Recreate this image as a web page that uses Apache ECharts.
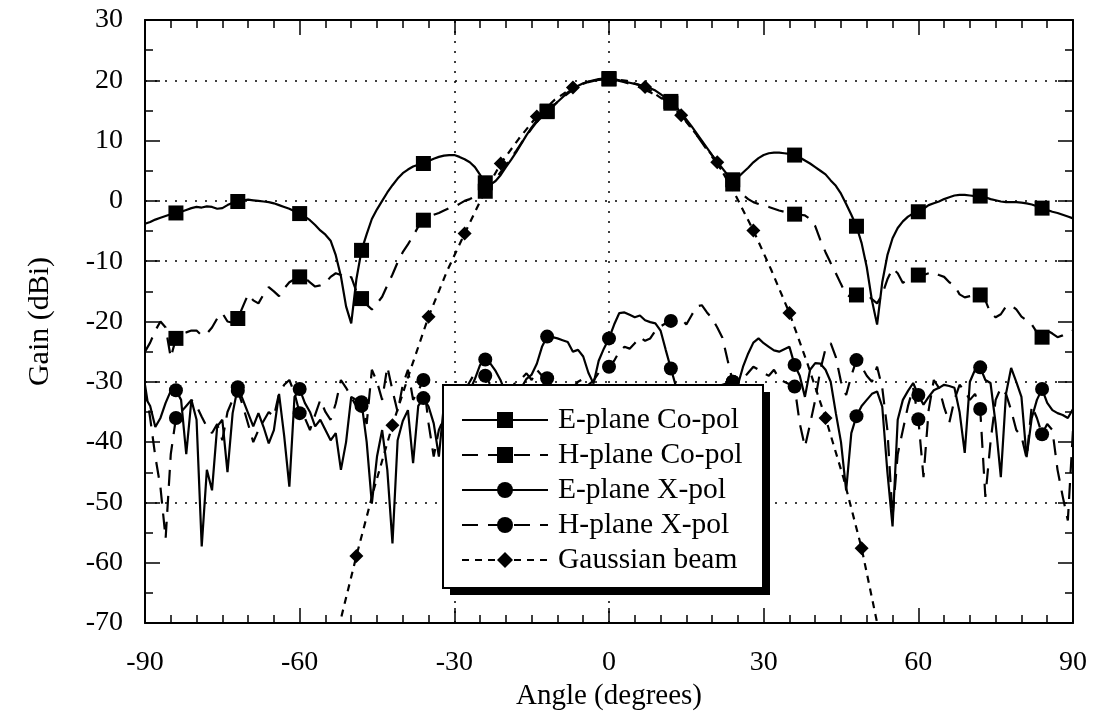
<!DOCTYPE html>
<html>
<head>
<meta charset="utf-8">
<script src="https://cdn.jsdelivr.net/npm/echarts@6/dist/echarts.min.js"></script>
<style>
  html, body { margin: 0; padding: 0; background: #fff; }
  #chart { width: 1098px; height: 717px; }
</style>
</head>
<body>
<div id="chart"></div>
<script>
// Measured antenna patterns, sampled every degree from -90 to 90.
const angles = [
  -90,-89,-88,-87,-86,-85,-84,-83,-82,-81,
  -80,-79,-78,-77,-76,-75,-74,-73,-72,-71,
  -70,-69,-68,-67,-66,-65,-64,-63,-62,-61,
  -60,-59,-58,-57,-56,-55,-54,-53,-52,-51,
  -50,-49,-48,-47,-46,-45,-44,-43,-42,-41,
  -40,-39,-38,-37,-36,-35,-34,-33,-32,-31,
  -30,-29,-28,-27,-26,-25,-24,-23,-22,-21,
  -20,-19,-18,-17,-16,-15,-14,-13,-12,-11,
  -10,-9,-8,-7,-6,-5,-4,-3,-2,-1,
  0,1,2,3,4,5,6,7,8,9,
  10,11,12,13,14,15,16,17,18,19,
  20,21,22,23,24,25,26,27,28,29,
  30,31,32,33,34,35,36,37,38,39,
  40,41,42,43,44,45,46,47,48,49,
  50,51,52,53,54,55,56,57,58,59,
  60,61,62,63,64,65,66,67,68,69,
  70,71,72,73,74,75,76,77,78,79,
  80,81,82,83,84,85,86,87,88,89,
  90
];

const eCoPol = [
  -3.8,-3.5,-3.1,-2.8,-2.5,-2.2,-2.0,-1.8,-1.5,-1.2,
  -1.0,-1.1,-0.9,-1.0,-1.3,-1.2,-0.7,-0.3,-0.1,0.1,
  0.2,0.1,0.0,-0.1,-0.2,-0.4,-0.7,-1.0,-1.3,-1.7,
  -2.1,-2.6,-3.2,-4.0,-4.9,-5.6,-6.6,-9.0,-12.5,-17.5,
  -20.3,-13.0,-8.2,-5.5,-3.0,-1.4,0.0,1.4,2.6,3.7,
  4.6,5.2,5.7,6.0,6.2,6.6,7.0,7.3,7.5,7.6,
  7.6,7.3,6.9,6.4,5.6,4.3,3.0,2.7,3.3,4.3,
  5.6,6.8,8.1,9.5,10.9,12.2,13.3,14.2,14.9,15.6,
  16.4,17.2,18.0,18.6,19.1,19.5,19.8,20.0,20.2,20.3,
  20.3,20.2,20.0,19.8,19.6,19.4,19.2,19.0,18.7,18.3,
  17.7,17.1,16.5,15.6,14.6,13.5,12.4,11.2,10.0,8.8,
  7.6,6.5,5.4,4.3,3.5,3.9,4.7,5.5,6.4,7.1,
  7.6,7.9,8.0,8.0,7.9,7.8,7.6,7.2,6.7,6.2,
  5.6,5.0,4.4,3.4,2.5,1.2,-0.5,-2.3,-4.2,-7.0,
  -11.0,-16.5,-20.5,-13.5,-9.0,-6.2,-4.5,-3.4,-2.6,-2.1,
  -1.8,-1.3,-0.7,-0.4,-0.1,0.3,0.6,0.9,1.0,1.0,
  0.9,0.8,0.8,0.6,0.3,0.1,-0.1,-0.2,-0.2,-0.2,
  -0.3,-0.4,-0.6,-0.9,-1.2,-1.5,-1.8,-2.0,-2.3,-2.6,
  -2.9
];

const hCoPol = [
  -25.0,-23.5,-21.5,-20.0,-21.0,-26.0,-22.8,-22.0,-21.8,-21.5,
  -21.5,-22.3,-22.0,-21.0,-19.5,-18.6,-20.0,-20.2,-19.5,-17.5,
  -15.5,-16.5,-17.0,-15.5,-14.3,-15.0,-15.8,-14.5,-13.5,-13.0,
  -12.6,-12.8,-13.5,-14.2,-14.0,-13.6,-12.6,-12.0,-12.3,-13.0,
  -12.6,-15.0,-16.2,-17.2,-18.0,-17.0,-15.9,-14.0,-12.2,-10.2,
  -8.5,-7.2,-5.8,-4.3,-3.2,-2.6,-2.3,-2.0,-1.6,-1.2,
  -1.0,-0.5,0.0,0.3,0.7,1.1,1.6,2.6,3.7,4.8,
  5.9,7.1,8.3,9.6,10.8,12.0,13.1,14.0,14.8,15.6,
  16.4,17.1,17.8,18.4,18.9,19.3,19.7,19.9,20.1,20.2,
  20.2,20.1,19.9,19.7,19.4,19.1,18.8,18.4,18.0,17.6,
  17.2,16.7,16.2,15.3,14.3,13.2,12.1,10.9,9.7,8.5,
  7.3,6.1,4.9,3.8,2.8,1.9,1.0,0.3,-0.2,-0.5,
  -0.8,-1.0,-1.3,-1.6,-1.8,-2.0,-2.2,-2.3,-2.4,-3.0,
  -4.2,-6.5,-8.5,-10.3,-12.0,-13.8,-15.5,-16.0,-15.6,-15.0,
  -15.5,-16.3,-17.0,-15.5,-13.0,-11.2,-12.0,-13.6,-13.0,-12.6,
  -12.3,-12.3,-12.0,-11.8,-12.3,-12.6,-13.5,-14.0,-15.5,-16.0,
  -15.8,-15.6,-15.6,-16.5,-18.6,-19.3,-18.8,-17.5,-17.3,-18.0,
  -19.2,-19.8,-20.5,-21.8,-22.6,-21.5,-22.0,-22.6,-22.3,-21.8,
  -21.5
];

const eXPol = [
  -32.5,-34.0,-37.5,-36.0,-33.5,-31.5,-31.4,-33.0,-42.0,-33.0,
  -36.3,-57.3,-44.6,-48.0,-37.4,-36.3,-45.0,-35.2,-30.9,-33.0,
  -35.2,-37.4,-35.2,-37.5,-40.2,-38.0,-32.0,-39.0,-47.4,-32.5,
  -31.2,-33.5,-35.0,-37.4,-36.3,-38.0,-39.7,-38.5,-44.6,-40.0,
  -32.5,-33.0,-33.4,-40.0,-50.2,-42.4,-38.0,-44.6,-56.8,-39.7,
  -36.5,-34.7,-43.5,-34.0,-32.7,-34.1,-36.9,-42.4,-33.6,-36.0,
  -38.0,-35.0,-33.0,-31.5,-29.5,-27.2,-26.3,-27.0,-28.2,-29.8,
  -32.0,-33.0,-32.0,-31.0,-29.5,-28.8,-27.0,-24.2,-22.5,-22.6,
  -22.8,-23.1,-23.4,-25.0,-24.7,-25.8,-28.5,-30.3,-26.5,-24.5,
  -22.8,-20.5,-18.6,-18.5,-18.9,-19.3,-19.0,-19.8,-20.1,-20.3,
  -21.5,-24.7,-27.8,-30.8,-33.0,-35.0,-34.0,-33.0,-35.0,-34.0,
  -32.0,-31.0,-30.5,-30.2,-30.0,-30.5,-27.5,-25.3,-23.5,-22.8,
  -23.6,-24.2,-24.8,-25.0,-24.6,-24.2,-27.2,-29.0,-32.5,-28.0,
  -26.9,-27.0,-28.0,-30.0,-35.2,-40.0,-48.0,-38.5,-35.7,-34.0,
  -33.0,-32.0,-31.6,-34.1,-45.0,-54.0,-36.3,-33.0,-31.5,-30.2,
  -32.2,-33.8,-32.5,-31.4,-31.0,-30.5,-30.7,-31.0,-35.0,-41.8,
  -30.0,-28.0,-27.6,-29.7,-30.2,-37.0,-45.8,-32.0,-27.7,-30.0,
  -32.5,-42.5,-36.0,-33.0,-31.2,-33.5,-34.7,-35.2,-35.5,-36.0,
  -34.5
];

const hXPol = [
  -30.5,-36.0,-42.4,-47.5,-56.0,-42.0,-36.0,-35.0,-34.0,-33.0,
  -34.0,-35.8,-37.5,-38.5,-37.0,-39.7,-35.0,-33.0,-31.5,-34.0,
  -37.0,-40.0,-38.0,-36.5,-35.0,-35.8,-31.9,-30.5,-29.7,-31.9,
  -35.2,-36.0,-38.0,-35.5,-33.0,-35.0,-36.3,-33.6,-29.7,-31.0,
  -32.5,-34.1,-34.0,-37.0,-28.0,-30.0,-33.0,-27.5,-31.4,-35.0,
  -30.5,-28.0,-33.0,-31.5,-29.7,-36.9,-42.4,-38.0,-36.0,-38.0,
  -35.0,-33.0,-31.5,-30.0,-28.5,-29.2,-29.0,-30.5,-32.0,-34.0,
  -33.0,-31.0,-30.0,-29.5,-28.6,-29.7,-28.0,-29.0,-29.4,-29.8,
  -30.5,-32.0,-33.0,-31.0,-30.0,-29.5,-30.5,-29.8,-28.5,-27.8,
  -27.5,-26.5,-25.0,-24.2,-24.5,-23.6,-22.6,-23.2,-22.8,-21.5,
  -20.8,-20.3,-19.9,-19.7,-19.5,-20.5,-19.0,-17.5,-17.3,-18.5,
  -19.5,-21.0,-22.7,-26.4,-30.0,-29.2,-29.5,-28.5,-27.5,-28.0,
  -28.6,-29.0,-28.0,-29.5,-30.0,-30.4,-30.8,-36.9,-40.8,-37.0,
  -33.0,-28.0,-24.5,-23.6,-25.9,-30.0,-32.2,-29.0,-26.4,-27.5,
  -29.0,-30.0,-27.5,-31.0,-38.0,-52.4,-42.0,-38.0,-34.0,-31.0,
  -36.2,-45.8,-34.7,-29.7,-31.0,-34.2,-36.8,-33.0,-30.5,-31.5,
  -33.0,-32.0,-34.5,-49.1,-40.0,-33.0,-31.0,-32.0,-34.7,-38.0,
  -39.0,-42.7,-34.0,-36.0,-38.7,-37.0,-38.0,-44.6,-49.0,-53.0,
  -38.0
];

// Gaussian beam model, sampled every 3.5 degrees.
const gaussAngles = [
  -52.5,-49,-45.5,-42,-38.5,-35,-31.5,-28,-24.5,-21,-17.5,-14,-10.5,-7,-3.5,
  0,3.5,7,10.5,14,17.5,21,24.5,28,31.5,35,38.5,42,45.5,49,52.5
];
const gaussGain = [
  -71.0,-58.9,-47.5,-37.2,-28.0,-19.2,-11.8,-5.4,0.8,6.2,10.3,14.0,16.8,18.8,19.9,
  20.3,19.9,18.9,16.8,14.2,10.4,6.4,1.0,-4.9,-11.5,-18.6,-27.0,-36.0,-46.0,-57.6,-72.0
];

// Dotted reference lines.
const gridAngles = [-30, 0];
const gridGains = [20, 0, -10, -30, -50];

const seriesNames = ['E-plane Co-pol', 'H-plane Co-pol', 'E-plane X-pol', 'H-plane X-pol', 'Gaussian beam'];

const FONT = '"Liberation Serif", "Times New Roman", serif';

// Legend frame (box plus a solid drop shadow), in pixels.
const LEGEND_BOX = { x: 443, y: 385, width: 320, height: 203 };
const LEGEND_SHADOW = 7;

// Keep a marker only every `step` degrees; the rest of the samples draw just the line.
function withMarkers(xs, ys, step) {
  return xs.map((x, i) =>
    Math.abs(x % step) < 1e-9 ? [x, ys[i]] : { value: [x, ys[i]], symbol: 'none' });
}

function patternSeries(name, xs, ys, step, symbol, size, dash) {
  return {
    name: name,
    type: 'line',
    data: withMarkers(xs, ys, step),
    symbol: symbol,
    symbolSize: size,
    showSymbol: true,
    animation: false,
    silent: true,
    z: 3,
    lineStyle: { color: '#000', width: 2.2, type: dash },
    itemStyle: { color: '#000' },
    emphasis: { disabled: true }
  };
}

function axisCommon() {
  return {
    axisLine: { show: true, onZero: false, lineStyle: { color: '#000', width: 2 } },
    axisTick: { show: true, inside: true, length: 15, lineStyle: { color: '#000', width: 1.5 } },
    splitLine: { show: false }
  };
}

const chart = echarts.init(document.getElementById('chart'), null, { renderer: 'canvas' });

chart.setOption({
  backgroundColor: '#fff',
  animation: false,
  grid: { left: 145, right: 25, top: 20, bottom: 94 },
  xAxis: [
    Object.assign(axisCommon(), {
      type: 'value', min: -90, max: 90, interval: 30, position: 'bottom',
      minorTick: { show: true, splitNumber: 6, length: 8, lineStyle: { color: '#000', width: 1.5 } },
      axisLabel: { color: '#000', fontFamily: FONT, fontSize: 28, margin: 26 },
      name: 'Angle (degrees)', nameLocation: 'middle', nameGap: 50,
      nameTextStyle: { color: '#000', fontFamily: FONT, fontSize: 29 }
    }),
    Object.assign(axisCommon(), {
      type: 'value', min: -90, max: 90, interval: 30, position: 'top',
      minorTick: { show: true, splitNumber: 6, length: 8, lineStyle: { color: '#000', width: 1.5 } },
      axisLabel: { show: false }
    })
  ],
  yAxis: [
    Object.assign(axisCommon(), {
      type: 'value', min: -70, max: 30, interval: 10, position: 'left',
      minorTick: { show: true, splitNumber: 2, length: 8, lineStyle: { color: '#000', width: 1.5 } },
      axisLabel: { color: '#000', fontFamily: FONT, fontSize: 28, margin: 22 },
      name: 'Gain (dBi)', nameLocation: 'middle', nameGap: 90, nameRotate: 90,
      nameTextStyle: { color: '#000', fontFamily: FONT, fontSize: 30 }
    }),
    Object.assign(axisCommon(), {
      type: 'value', min: -70, max: 30, interval: 10, position: 'right',
      minorTick: { show: true, splitNumber: 2, length: 8, lineStyle: { color: '#000', width: 1.5 } },
      axisLabel: { show: false }
    })
  ],
  graphic: [
    {
      type: 'rect', z: 10, silent: true,
      shape: {
        x: LEGEND_BOX.x + LEGEND_SHADOW, y: LEGEND_BOX.y + LEGEND_SHADOW,
        width: LEGEND_BOX.width, height: LEGEND_BOX.height
      },
      style: { fill: '#000' }
    },
    {
      type: 'rect', z: 11, silent: true,
      shape: { x: LEGEND_BOX.x, y: LEGEND_BOX.y, width: LEGEND_BOX.width, height: LEGEND_BOX.height },
      style: { fill: '#fff', stroke: '#000', lineWidth: 2 }
    }
  ],
  legend: {
    data: seriesNames,
    orient: 'vertical',
    z: 20,
    left: 443,
    top: 389,
    itemWidth: 86,
    itemHeight: 20,
    itemGap: 5,
    padding: [16, 16, 14, 18],
    selectedMode: false,
    textStyle: { color: '#000', fontFamily: FONT, fontSize: 29.5, lineHeight: 30, padding: [0, 0, 0, 5] }
  },
  series: [
    {
      type: 'line',
      data: [],
      silent: true,
      z: 1,
      markLine: {
        silent: true,
        animation: false,
        symbol: ['none', 'none'],
        label: { show: false },
        emphasis: { disabled: true },
        lineStyle: { color: '#000', width: 1.5, type: [2, 8] },
        data: gridGains.map(v => ({ yAxis: v })).concat(gridAngles.map(v => ({ xAxis: v })))
      }
    },
    patternSeries(seriesNames[0], angles, eCoPol, 12, 'rect', 15, 'solid'),
    patternSeries(seriesNames[1], angles, hCoPol, 12, 'rect', 15, [16, 10]),
    patternSeries(seriesNames[2], angles, eXPol, 12, 'circle', 14, 'solid'),
    patternSeries(seriesNames[3], angles, hXPol, 12, 'circle', 14, [16, 10]),
    patternSeries(seriesNames[4], gaussAngles, gaussGain, 7, 'diamond', 14, [7, 6])
  ]
});
</script>
</body>
</html>
